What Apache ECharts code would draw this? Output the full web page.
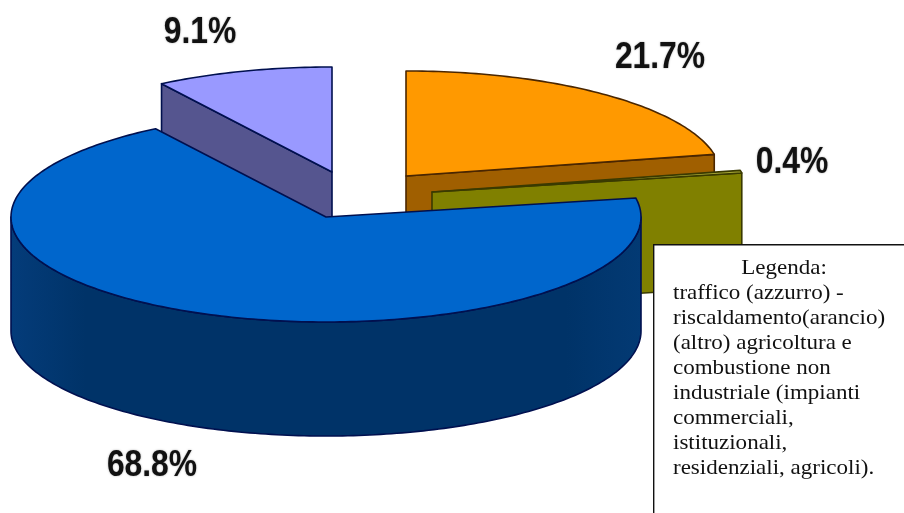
<!DOCTYPE html>
<html>
<head>
<meta charset="utf-8">
<style>html,body{margin:0;padding:0;background:#fff}#chart{width:904px;height:513px}</style>
<script src="https://cdn.jsdelivr.net/npm/echarts@6/dist/echarts.min.js"></script>
</head>
<body>
<div id="chart"></div>
<script>
// Emission shares, clockwise from 12 o'clock.
const categories = ['riscaldamento', 'altro', 'traffico', 'agricoltura'];
const shares = [21.7, 0.4, 68.8, 9.1];
const legendTitle = 'Legenda:';
const legendLines = [
  'traffico (azzurro) -',
  'riscaldamento(arancio)',
  '(altro) agricoltura e',
  'combustione non',
  'industriale (impianti',
  'commerciali,',
  'istituzionali,',
  'residenziali, agricoli).'
];

// Look of each slice, in the same order as the shares.
const sliceLook = [
  { apex: [406, 176], top: '#FF9900', wall: '#A05F00', line: '#4A2600', labelAt: [660, 76] },
  { apex: [432, 192], top: '#A9A935', wall: '#808000', line: '#3A3A00', labelAt: [792, 181] },
  { apex: [326, 217], top: '#0066CC', wall: '#003366', line: '#00104F', labelAt: [152, 484] },
  { apex: [332, 172], top: '#9999FF', wall: '#55558F', line: '#00104F', labelAt: [200, 51] }
];
const paintOrder = [3, 0, 1, 2];
const radiusX = 315;
const radiusY = 105;
const depth = 114;

const total = shares.reduce((a, b) => a + b, 0);
const rad = d => d * Math.PI / 180;

function sweepOf(i) {
  // Angles in degrees, counter-clockwise from 3 o'clock.
  const before = shares.slice(0, i).reduce((a, b) => a + b, 0);
  const start = 90 - before / total * 360;
  return { start, end: start - shares[i] / total * 360 };
}

function rimPoint(apex, a, drop) {
  return [apex[0] + radiusX * Math.cos(rad(a)),
          apex[1] - radiusY * Math.sin(rad(a)) + (drop || 0)];
}

function arc(apex, from, to, drop) {
  const pts = [];
  const n = Math.max(2, Math.ceil(Math.abs(from - to)));
  for (let k = 0; k <= n; k++) pts.push(rimPoint(apex, from + (to - from) * k / n, drop));
  return pts;
}

function face(points, fill, line) {
  return { type: 'polygon', shape: { points },
           style: { fill, stroke: line, lineWidth: 1.6, lineJoin: 'round' } };
}

function radialWall(apex, a, look) {
  const lowApex = [apex[0], apex[1] + depth];
  return face([apex, rimPoint(apex, a), rimPoint(apex, a, depth), lowApex], look.wall, look.line);
}

function renderSlice(params, api) {
  const i = api.value(0);
  const look = sliceLook[i];
  const { start, end } = sweepOf(i);
  const apex = look.apex;
  const children = [];

  // Only cut faces turned toward the viewer are drawn.
  if (Math.cos(rad(start)) < -1e-6) children.push(radialWall(apex, start, look));
  if (Math.cos(rad(end)) > 1e-6) children.push(radialWall(apex, end, look));

  // Curved outer wall along the part of the rim on the front half.
  const frontFrom = Math.min(start, 0);
  const frontTo = Math.max(end, -180);
  if (frontFrom > frontTo) {
    const upper = arc(apex, frontFrom, frontTo, 0);
    const lower = arc(apex, frontTo, frontFrom, depth);
    const wall = face(upper.concat(lower), look.wall, look.line);
    wall.style.fill = new echarts.graphic.LinearGradient(0, 0, 1, 0, [
      { offset: 0, color: '#043C7A' },
      { offset: 0.12, color: '#003368' },
      { offset: 0.88, color: '#003368' },
      { offset: 1, color: '#033A74' }
    ]);
    children.push(wall);
  }

  // Top face of the slice.
  children.push(face([apex].concat(arc(apex, start, end, 0)), look.top, look.line));

  // Percentage label, taken from the same share.
  children.push({
    type: 'text',
    x: look.labelAt[0],
    y: look.labelAt[1],
    scaleX: 0.86,
    style: {
      text: api.value(1).toFixed(1) + '%',
      font: 'bold 37px "Liberation Sans", Arial, sans-serif',
      fill: '#111',
      align: 'center',
      verticalAlign: 'bottom',
      textShadowColor: 'rgba(0,0,0,0.35)',
      textShadowBlur: 2
    }
  });
  return { type: 'group', children };
}

const legendFont = '21.5px "Liberation Serif", "DejaVu Serif", serif';
const legendGraphic = [
  { type: 'rect', left: 653, top: 244, z: 100,
    shape: { width: 262, height: 290 },
    style: { fill: '#fff', stroke: '#111', lineWidth: 1.4 } },
  { type: 'text', x: 784, y: 268, z: 101, scaleX: 1.07,
    style: { text: legendTitle, font: legendFont, fill: '#111', align: 'center', verticalAlign: 'middle' } }
].concat(legendLines.map((t, k) => ({
  type: 'text', x: 673, y: 293 + k * 25, z: 101, scaleX: 1.07,
  style: { text: t, font: legendFont, fill: '#111', align: 'left', verticalAlign: 'middle' }
})));

const chart = echarts.init(document.getElementById('chart'), null, { renderer: 'canvas' });
chart.setOption({
  animation: false,
  backgroundColor: '#fff',
  graphic: legendGraphic,
  series: [{
    type: 'custom',
    coordinateSystem: 'none',
    name: 'Emissioni',
    renderItem: renderSlice,
    encode: { value: 1, itemName: 2 },
    data: paintOrder.map(i => [i, shares[i], categories[i]])
  }]
});
</script>
</body>
</html>
